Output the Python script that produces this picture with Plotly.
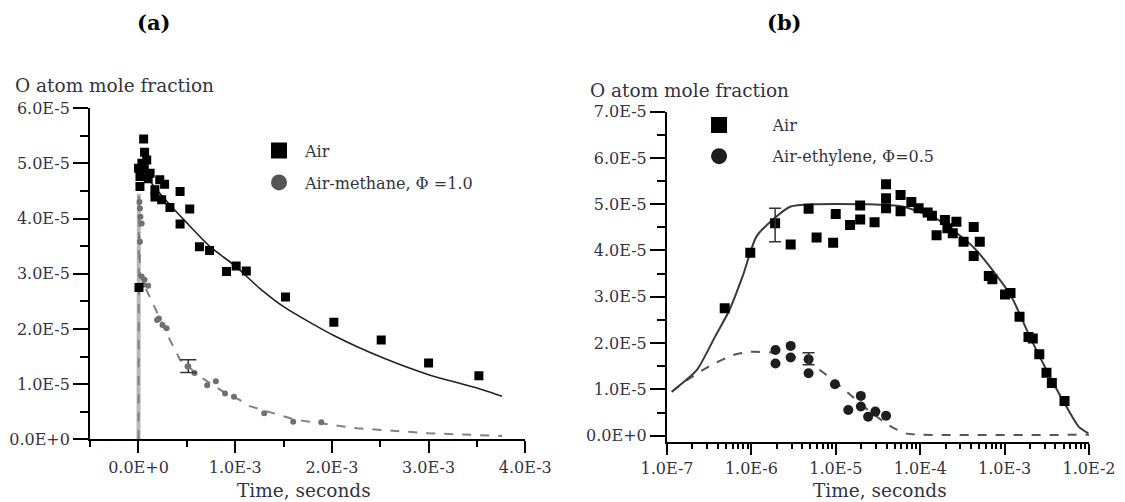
import plotly.graph_objects as go

# ---------------- Panel (a): linear time axis ----------------
a_air_t = [0.053e-3, 0.063e-3, 0.085e-3, 0.000e-3, 0.060e-3, 0.015e-3, 0.120e-3, 0.22e-3,
           0.27e-3, 0.015e-3, 0.17e-3, 0.17e-3, 0.24e-3, 0.325e-3, 0.43e-3, 0.53e-3,
           0.43e-3, 0.63e-3, 0.735e-3, 0.91e-3, 1.01e-3, 1.115e-3, 1.52e-3, 0.005e-3,
           2.02e-3, 2.51e-3, 3.00e-3, 3.52e-3, 0.035e-3, 0.10e-3]
a_air_v = [5.44e-5, 5.20e-5, 5.06e-5, 4.91e-5, 4.90e-5, 4.76e-5, 4.82e-5, 4.70e-5,
           4.62e-5, 4.58e-5, 4.52e-5, 4.39e-5, 4.34e-5, 4.20e-5, 4.49e-5, 4.17e-5,
           3.90e-5, 3.49e-5, 3.42e-5, 3.04e-5, 3.14e-5, 3.05e-5, 2.58e-5, 2.75e-5,
           2.12e-5, 1.80e-5, 1.38e-5, 1.15e-5, 5.00e-5, 4.72e-5]

a_meth_t = [0.010e-3, 0.015e-3, 0.020e-3, 0.033e-3, 0.015e-3, 0.033e-3, 0.063e-3, 0.100e-3,
            0.050e-3, 0.192e-3, 0.211e-3, 0.248e-3, 0.29e-3, 0.507e-3, 0.58e-3, 0.71e-3,
            0.80e-3, 0.895e-3, 0.987e-3, 1.30e-3, 1.60e-3, 1.89e-3]
a_meth_v = [4.30e-5, 4.18e-5, 4.03e-5, 3.91e-5, 3.58e-5, 2.95e-5, 2.89e-5, 2.78e-5,
            2.80e-5, 2.16e-5, 2.19e-5, 2.07e-5, 2.01e-5, 1.32e-5, 1.20e-5, 0.98e-5,
            1.05e-5, 0.83e-5, 0.77e-5, 0.47e-5, 0.32e-5, 0.31e-5]

a_air_model_t = [0.03e-3, 0.10e-3, 0.20e-3, 0.36e-3, 0.50e-3, 0.74e-3, 1.00e-3, 1.25e-3,
                 1.52e-3, 2.02e-3, 2.52e-3, 3.00e-3, 3.50e-3, 3.76e-3]
a_air_model_v = [4.92e-5, 4.72e-5, 4.50e-5, 4.18e-5, 3.92e-5, 3.49e-5, 3.14e-5, 2.74e-5,
                 2.38e-5, 1.88e-5, 1.48e-5, 1.17e-5, 0.93e-5, 0.78e-5]

a_meth_model_t = [0.0, 0.004e-3, 0.015e-3, 0.05e-3, 0.15e-3, 0.29e-3, 0.43e-3, 0.64e-3,
                  0.88e-3, 1.05e-3, 1.15e-3, 1.63e-3, 2.26e-3, 3.00e-3, 3.76e-3]
a_meth_model_v = [0.0, 4.45e-5, 3.00e-5, 2.82e-5, 2.46e-5, 1.92e-5, 1.44e-5, 1.13e-5,
                  0.86e-5, 0.71e-5, 0.60e-5, 0.35e-5, 0.20e-5, 0.11e-5, 0.06e-5]

a_err_t = [0.515e-3]
a_err_v = [1.325e-5]
a_err_half = [0.115e-5]

a_xtick_vals = [0.0, 1.0e-3, 2.0e-3, 3.0e-3, 4.0e-3]
a_xtick_text = ["0.0E+0", "1.0E-3", "2.0E-3", "3.0E-3", "4.0E-3"]
a_ytick_vals = [0.0, 1.0e-5, 2.0e-5, 3.0e-5, 4.0e-5, 5.0e-5, 6.0e-5]
a_ytick_text = ["0.0E+0", "1.0E-5", "2.0E-5", "3.0E-5", "4.0E-5", "5.0E-5", "6.0E-5"]

# ---------------- Panel (b): log time axis ----------------
b_air_t = [4.83e-7, 9.7e-7, 1.91e-6, 2.92e-6, 4.76e-6, 5.92e-6, 9.3e-6, 9.98e-6, 1.476e-5,
           1.945e-5, 1.945e-5, 2.88e-5, 3.94e-5, 3.94e-5, 3.94e-5, 5.85e-5, 5.85e-5,
           7.85e-5, 9.57e-5, 1.225e-4, 1.377e-4, 1.563e-4, 1.963e-4, 2.099e-4, 2.432e-4,
           2.685e-4, 3.266e-4, 4.305e-4, 4.305e-4, 5.08e-4, 6.5e-4, 7.16e-4, 1.012e-3,
           1.175e-3, 1.503e-3, 1.919e-3, 2.158e-3, 2.576e-3, 3.133e-3, 3.63e-3, 5.13e-3]
b_air_v = [2.75e-5, 3.95e-5, 4.59e-5, 4.13e-5, 4.90e-5, 4.28e-5, 4.17e-5, 4.79e-5, 4.55e-5,
           4.97e-5, 4.67e-5, 4.61e-5, 5.43e-5, 5.13e-5, 4.91e-5, 5.20e-5, 4.85e-5,
           5.05e-5, 4.91e-5, 4.82e-5, 4.75e-5, 4.33e-5, 4.66e-5, 4.48e-5, 4.37e-5,
           4.62e-5, 4.19e-5, 4.51e-5, 3.88e-5, 4.19e-5, 3.45e-5, 3.38e-5, 3.05e-5,
           3.08e-5, 2.57e-5, 2.13e-5, 2.10e-5, 1.76e-5, 1.36e-5, 1.14e-5, 0.75e-5]

b_eth_t = [1.93e-6, 1.93e-6, 2.92e-6, 2.92e-6, 4.76e-6, 4.76e-6, 9.77e-6, 1.406e-5,
           1.98e-5, 1.98e-5, 2.415e-5, 2.94e-5, 3.94e-5]
b_eth_v = [1.85e-5, 1.56e-5, 1.94e-5, 1.69e-5, 1.65e-5, 1.35e-5, 1.11e-5, 0.555e-5,
           0.86e-5, 0.63e-5, 0.41e-5, 0.52e-5, 0.43e-5]

b_air_model_t = [1.14e-7, 2.26e-7, 3.71e-7, 5.48e-7, 7.9e-7, 1.146e-6, 1.968e-6, 2.92e-6,
                 5.26e-6, 2.30e-5, 6.14e-5, 1.644e-4, 4.385e-4, 1.175e-3, 1.919e-3,
                 3.133e-3, 5.13e-3, 7.59e-3, 9.82e-3]
b_air_model_v = [0.95e-5, 1.42e-5, 2.14e-5, 2.71e-5, 3.45e-5, 4.30e-5, 4.73e-5, 4.95e-5,
                 5.00e-5, 5.00e-5, 4.95e-5, 4.66e-5, 4.05e-5, 3.04e-5, 2.20e-5,
                 1.42e-5, 0.70e-5, 0.19e-5, 0.05e-5]

b_eth_model_t = [1.14e-7, 1.86e-7, 3.36e-7, 6.05e-7, 9.6e-7, 1.968e-6, 4.32e-6, 7.8e-6,
                 1.406e-5, 2.535e-5, 4.57e-5, 6.76e-5, 1.0e-4, 1.0e-2]
b_eth_model_v = [0.95e-5, 1.24e-5, 1.53e-5, 1.74e-5, 1.81e-5, 1.79e-5, 1.63e-5, 1.31e-5,
                 0.92e-5, 0.52e-5, 0.19e-5, 0.05e-5, 0.02e-5, 0.02e-5]

b_err_t = [1.91e-6, 4.76e-6]
b_err_v = [4.55e-5, 1.66e-5]
b_err_half = [0.36e-5, 0.13e-5]

b_xtick_vals = [1e-7, 1e-6, 1e-5, 1e-4, 1e-3, 1e-2]
b_xtick_text = ["1.0E-7", "1.0E-6", "1.0E-5", "1.0E-4", "1.0E-3", "1.0E-2"]
b_ytick_vals = [0.0, 1.0e-5, 2.0e-5, 3.0e-5, 4.0e-5, 5.0e-5, 6.0e-5, 7.0e-5]
b_ytick_text = ["0.0E+0", "1.0E-5", "2.0E-5", "3.0E-5", "4.0E-5", "5.0E-5", "6.0E-5", "7.0E-5"]

# ---------------- Styling ----------------
FONT = "DejaVu Serif"
TXT = "#333344"
W, H = 1125, 502

fig = go.Figure()

# Panel (a) traces
# solid light band under the initial (vertical) rise of the methane model
fig.add_trace(go.Scatter(x=a_meth_model_t[:2], y=a_meth_model_v[:2], mode="lines",
                         line=dict(color="#b8b8b8", width=4),
                         showlegend=False, xaxis="x", yaxis="y"))
fig.add_trace(go.Scatter(x=a_meth_model_t, y=a_meth_model_v, mode="lines",
                         line=dict(color="#808080", width=2, dash="dash"),
                         showlegend=False, xaxis="x", yaxis="y"))
fig.add_trace(go.Scatter(x=a_air_model_t, y=a_air_model_v, mode="lines",
                         line=dict(color="#222222", width=1.6, shape="spline", smoothing=0.6),
                         showlegend=False, xaxis="x", yaxis="y"))
fig.add_trace(go.Scatter(x=a_meth_t, y=a_meth_v, mode="markers",
                         marker=dict(symbol="circle", size=6, color="#707070"),
                         showlegend=False, xaxis="x", yaxis="y"))
fig.add_trace(go.Scatter(x=a_air_t, y=a_air_v, mode="markers",
                         marker=dict(symbol="square", size=9, color="black"),
                         showlegend=False, xaxis="x", yaxis="y"))
fig.add_trace(go.Scatter(x=a_err_t, y=a_err_v, mode="markers",
                         marker=dict(size=6, color="#707070"),
                         error_y=dict(type="data", array=a_err_half, visible=True,
                                      color="#333333", thickness=1.5, width=8),
                         showlegend=False, xaxis="x", yaxis="y"))

# Panel (b) traces
fig.add_trace(go.Scatter(x=b_eth_model_t, y=b_eth_model_v, mode="lines",
                         line=dict(color="#555555", width=2, dash="dash", shape="spline", smoothing=0.5),
                         showlegend=False, xaxis="x2", yaxis="y2"))
fig.add_trace(go.Scatter(x=b_air_model_t, y=b_air_model_v, mode="lines",
                         line=dict(color="#3a3a3a", width=2, shape="spline", smoothing=0.6),
                         showlegend=False, xaxis="x2", yaxis="y2"))
fig.add_trace(go.Scatter(x=b_eth_t, y=b_eth_v, mode="markers",
                         marker=dict(symbol="circle", size=10, color="#1e1e1e"),
                         showlegend=False, xaxis="x2", yaxis="y2"))
fig.add_trace(go.Scatter(x=b_air_t, y=b_air_v, mode="markers",
                         marker=dict(symbol="square", size=10, color="black"),
                         showlegend=False, xaxis="x2", yaxis="y2"))
fig.add_trace(go.Scatter(x=b_err_t, y=b_err_v, mode="markers",
                         marker=dict(size=1, color="rgba(0,0,0,0)"),
                         error_y=dict(type="data", array=b_err_half, visible=True,
                                      color="#333333", thickness=1.5, width=6),
                         showlegend=False, xaxis="x2", yaxis="y2"))

# Legend entries (one legend per entry for exact placement)
fig.add_trace(go.Scatter(x=[None], y=[None], mode="markers", name="Air",
                         marker=dict(symbol="square", size=20, color="black"),
                         legend="legend", xaxis="x", yaxis="y"))
fig.add_trace(go.Scatter(x=[None], y=[None], mode="markers", name="Air-methane, \u03a6 =1.0",
                         marker=dict(symbol="circle", size=20, color="#555555"),
                         legend="legend2", xaxis="x", yaxis="y"))
fig.add_trace(go.Scatter(x=[None], y=[None], mode="markers", name="Air",
                         marker=dict(symbol="square", size=20, color="black"),
                         legend="legend3", xaxis="x2", yaxis="y2"))
fig.add_trace(go.Scatter(x=[None], y=[None], mode="markers", name="Air-ethylene, \u03a6=0.5",
                         marker=dict(symbol="circle", size=20, color="#1e1e1e"),
                         legend="legend4", xaxis="x2", yaxis="y2"))

axis_common = dict(showline=True, linecolor="black", linewidth=2, ticks="outside",
                   tickcolor="black", tickwidth=2, showgrid=False, zeroline=False,
                   tickfont=dict(family=FONT, size=16, color=TXT), automargin=False,
                   mirror=False, tickmode="array")

fig.update_layout(
    width=W, height=H, margin=dict(l=0, r=0, t=0, b=0),
    paper_bgcolor="white", plot_bgcolor="white", template="none",
    xaxis=dict(axis_common, domain=[0.08013, 0.46693], range=[-0.5e-3, 4.0e-3], anchor="y",
               tickvals=a_xtick_vals, ticktext=a_xtick_text, ticklen=12,
               minor=dict(ticks="outside", ticklen=6, tickwidth=2, tickcolor="black",
                          tickmode="linear", tick0=0, dtick=0.5e-3)),
    yaxis=dict(axis_common, domain=[0.12490, 0.78466], range=[0, 6.0e-5], anchor="x",
               tickvals=a_ytick_vals, ticktext=a_ytick_text, ticklen=15,
               minor=dict(ticks="outside", ticklen=8, tickwidth=2, tickcolor="black",
                          tickmode="linear", tick0=0, dtick=0.5e-5)),
    xaxis2=dict(axis_common, type="log", domain=[0.59289, 0.96800], range=[-7, -2], anchor="y2",
                tickvals=b_xtick_vals, ticktext=b_xtick_text, ticklen=11,
                minor=dict(ticks="outside", ticklen=5, tickwidth=1.5, tickcolor="black", dtick="D1")),
    yaxis2=dict(axis_common, domain=[0.12012, 0.77769], range=[-1.296e-6, 7.0e-5], anchor="x2",
                tickvals=b_ytick_vals, ticktext=b_ytick_text, ticklen=15,
                minor=dict(ticks="outside", ticklen=8, tickwidth=2, tickcolor="black",
                           tickmode="linear", tick0=0, dtick=0.5e-5)),
)

leg_font = dict(family=FONT, size=16, color=TXT)
fig.update_layout(
    legend=dict(x=0.2249, y=(H - 150.7) / H, xanchor="left", yanchor="middle", itemwidth=42,
                font=leg_font, bgcolor="rgba(0,0,0,0)", borderwidth=0),
    legend2=dict(x=0.2249, y=(H - 182.5) / H, xanchor="left", yanchor="middle", itemwidth=42,
                 font=leg_font, bgcolor="rgba(0,0,0,0)", borderwidth=0),
    legend3=dict(x=0.5916, y=(H - 125) / H, xanchor="left", yanchor="middle", itemwidth=97,
                 font=leg_font, bgcolor="rgba(0,0,0,0)", borderwidth=0),
    legend4=dict(x=0.5916, y=(H - 156.3) / H, xanchor="left", yanchor="middle", itemwidth=97,
                 font=leg_font, bgcolor="rgba(0,0,0,0)", borderwidth=0),
)

ann = []
ann.append(dict(text="<b>(a)</b>", x=153 / W, y=(H - 23) / H, xref="paper", yref="paper",
                showarrow=False, xanchor="center", yanchor="middle",
                font=dict(family=FONT, size=21, color="black")))
ann.append(dict(text="<b>(b)</b>", x=784 / W, y=(H - 23) / H, xref="paper", yref="paper",
                showarrow=False, xanchor="center", yanchor="middle",
                font=dict(family=FONT, size=21, color="black")))
ann.append(dict(text="O atom mole fraction", x=12.5 / W, y=(H - 86) / H, xref="paper", yref="paper",
                showarrow=False, xanchor="left", yanchor="middle",
                font=dict(family=FONT, size=18.5, color=TXT)))
ann.append(dict(text="O atom mole fraction", x=588 / W, y=(H - 91) / H, xref="paper", yref="paper",
                showarrow=False, xanchor="left", yanchor="middle",
                font=dict(family=FONT, size=18.5, color=TXT)))
ann.append(dict(text="Time, seconds", x=303.5 / W, y=(H - 490) / H, xref="paper", yref="paper",
                showarrow=False, xanchor="center", yanchor="middle",
                font=dict(family=FONT, size=18.5, color=TXT)))
ann.append(dict(text="Time, seconds", x=879.6 / W, y=(H - 490) / H, xref="paper", yref="paper",
                showarrow=False, xanchor="center", yanchor="middle",
                font=dict(family=FONT, size=18.5, color=TXT)))
fig.update_layout(annotations=ann)

fig.write_html("out.html", config={"displayModeBar": False})
